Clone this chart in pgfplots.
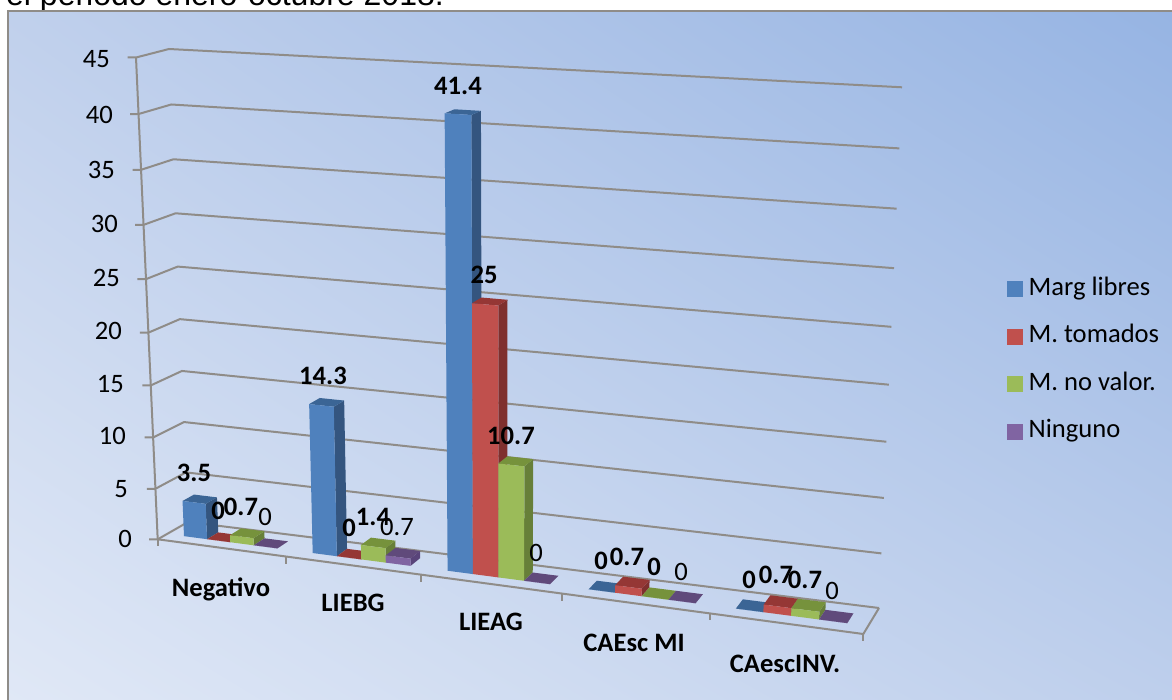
\documentclass[border=0pt]{standalone}
\usepackage{pgfplots}
\pgfplotsset{compat=1.18}
\usetikzlibrary{shadings}
\usepackage{fontspec}
\setmainfont{Carlito}
\newfontfamily\arialfont{Liberation Sans}
\newcommand\chartfont{\fontsize{26.6}{26.6}\selectfont}

% Series colours: front, side and top faces of each bar
\definecolor{s0front}{HTML}{4F81BD}\definecolor{s0side}{HTML}{34557F}\definecolor{s0top}{HTML}{3B6595}
\definecolor{s1front}{HTML}{C0504D}\definecolor{s1side}{HTML}{7F302E}\definecolor{s1top}{HTML}{953735}
\definecolor{s2front}{HTML}{9BBB59}\definecolor{s2side}{HTML}{677F39}\definecolor{s2top}{HTML}{76923C}
\definecolor{s3front}{HTML}{8064A2}\definecolor{s3side}{HTML}{59447A}\definecolor{s3top}{HTML}{604A7B}
\definecolor{gridgray}{HTML}{8F8C88}
\definecolor{bgll}{RGB}{224,232,246}
\definecolor{bgul}{RGB}{192,208,236}
\definecolor{bglr}{RGB}{190,207,236}
\definecolor{bgur}{RGB}{150,180,227}

% One face of a bar: category, series, colour, corner rows (edge e, depth d, value v)
\newcommand\face[4]{%
  \addplot[fill=#3,draw=none,mark=none,forget plot] table[row sep=\\,
    x expr={px(#1+0.135+(#2+\thisrow{e})*0.1825,\thisrow{d},\thisrow{v})},
    y expr={py(#1+0.135+(#2+\thisrow{e})*0.1825,\thisrow{d},\thisrow{v})}]
    {e d v\\ #4};}
% A whole bar: category, series, value
\newcommand\drawbar[3]{%
  \face{#1}{#2}{s#2side}{1 0.31 0\\ 1 0.69 0\\ 1 0.69 #3\\ 1 0.31 #3\\}
  \face{#1}{#2}{s#2top}{0 0.31 #3\\ 1 0.31 #3\\ 1 0.69 #3\\ 0 0.69 #3\\}
  \face{#1}{#2}{s#2front}{0 0.31 0\\ 1 0.31 0\\ 1 0.31 #3\\ 0 0.31 #3\\}}
% A frame line: rows of u, d, v and a pixel offset
\newcommand\frameline[1]{%
  \addplot[gridgray,line width=2pt,mark=none,forget plot] table[row sep=\\,
    x expr={px(\thisrow{u},\thisrow{d},\thisrow{v})+\thisrow{dx}},
    y expr={py(\thisrow{u},\thisrow{d},\thisrow{v})+\thisrow{dy}}]
    {u d v dx dy\\ #1};}

\begin{document}
\begin{tikzpicture}[x=1pt,y=1pt]
\clip (0,0) rectangle (1172,700);
% Page heading, cut by the chart area
\node[anchor=base west,inner sep=0pt,font=\arialfont\fontsize{32}{32}\selectfont] at (6,694.5) {el periodo enero-octubre 2018.};
% Chart area with its diagonal gradient
\shade[lower left=bgll,upper left=bgul,lower right=bglr,upper right=bgur]
  (8,-2) rectangle (1174,688.5);
\draw[gridgray,line width=2pt] (8,-4) -- (8,688.5) -- (1176,688.5);

\begin{axis}[
  at={(0,0)},anchor=south west,
  scale only axis,width=1172pt,height=700pt,
  xmin=0,xmax=1172,ymin=0,ymax=700,y dir=reverse,
  hide axis,clip=false,
  declare function={
    su(\a)=\a/5+0.11*(\a/5)*(\a/5-1);
    tv(\c)=\c/45+0.063*(\c/45)*(\c/45-1);
    px(\a,\b,\c)=(1-tv(\c))*((1-su(\a))*((1-\b)*157.7+\b*188)+su(\a)*((1-\b)*863.3+\b*879))
                +tv(\c)*((1-su(\a))*((1-\b)*136+\b*169)+su(\a)*((1-\b)*886.7+\b*902));
    py(\a,\b,\c)=(1-tv(\c))*((1-su(\a))*((1-\b)*539.3+\b*522)+su(\a)*((1-\b)*634+\b*608))
                +tv(\c)*((1-su(\a))*((1-\b)*57.5+\b*49)+su(\a)*((1-\b)*99+\b*87.3));
  },
  legend style={draw=none,fill=none,at={(axis cs:1007,273.5)},anchor=north west,
    font=\chartfont,row sep=21.6pt,column sep=3pt,inner sep=0pt,
    nodes={inner sep=3pt,anchor=base west}},
  legend cell align=left,
  legend image code/.code={\fill[#1] (0pt,-1pt) rectangle (15pt,14pt);},
]
% Gridlines on the back and side walls
\pgfplotsinvokeforeach{0,5,10,15,20,25,30,35,40,45}{
  \frameline{0 0 #1 -8.5 0\\ 0 0 #1 0 0\\ 0 1 #1 0 0\\ 5 1 #1 0 0\\}
}
% Value axis edge and floor outline with category ticks
\frameline{0 0 0 0 0\\ 0 0 45 0 0\\}
\frameline{0 0 0 0 0\\ 5 0 0 0 0\\ 5 1 0 0 0\\}
\pgfplotsinvokeforeach{0,1,2,3,4,5}{
  \frameline{#1 0 0 0 0\\ #1 0 0 0 7\\}
}

% Bars: category, series, value
\drawbar{0}{0}{3.5}\drawbar{0}{1}{0}\drawbar{0}{2}{0.7}\drawbar{0}{3}{0}
\drawbar{1}{0}{14.3}\drawbar{1}{1}{0}\drawbar{1}{2}{1.4}\drawbar{1}{3}{0.7}
\drawbar{2}{0}{41.4}\drawbar{2}{1}{25}\drawbar{2}{2}{10.7}\drawbar{2}{3}{0}
\drawbar{3}{0}{0}\drawbar{3}{1}{0.7}\drawbar{3}{2}{0}\drawbar{3}{3}{0}
\drawbar{4}{0}{0}\drawbar{4}{1}{0.7}\drawbar{4}{2}{0.7}\drawbar{4}{3}{0}

\addlegendimage{s0front}\addlegendentry{Marg libres}
\addlegendimage{s1front}\addlegendentry{M. tomados}
\addlegendimage{s2front}\addlegendentry{M. no valor.}
\addlegendimage{s3front}\addlegendentry{Ninguno}

% Value axis labels
\begin{scope}[every node/.style={font=\chartfont,anchor=east,inner sep=0pt}]
\node at (axis cs:110,59){45};
\node at (axis cs:113,115){40};
\node at (axis cs:115,170){35};
\node at (axis cs:118,224){30};
\node at (axis cs:120,278){25};
\node at (axis cs:122,331){20};
\node at (axis cs:124,384){15};
\node at (axis cs:126,436){10};
\node at (axis cs:128,489){5};
\node at (axis cs:132,539){0};
\end{scope}
% Category labels
\begin{scope}[every node/.style={font=\bfseries\chartfont,inner sep=0pt}]
\node at (axis cs:221,589){Negativo};
\node at (axis cs:353,603){LIEBG};
\node at (axis cs:491,622){LIEAG};
\node at (axis cs:634,643){CAEsc MI};
\node at (axis cs:785,664){CAescINV.};
\end{scope}
% Value labels, bold and regular
\begin{scope}[every node/.style={font=\bfseries\chartfont,inner sep=0pt}]
\node at (axis cs:194,473){3.5};
\node at (axis cs:218,511){0};
\node at (axis cs:241,507){0.7};
\node at (axis cs:323,376){14.3};
\node at (axis cs:349,528){0};
\node at (axis cs:373,517){1.4};
\node at (axis cs:458,86){41.4};
\node at (axis cs:484,275){25};
\node at (axis cs:511,436){10.7};
\node at (axis cs:601,561){0};
\node at (axis cs:627,557){0.7};
\node at (axis cs:654,567){0};
\node at (axis cs:749,580){0};
\node at (axis cs:776,575){0.7};
\node at (axis cs:805,580){0.7};
\end{scope}
\begin{scope}[every node/.style={font=\chartfont,inner sep=0pt}]
\node at (axis cs:265,517){0};
\node at (axis cs:397,527){0.7};
\node at (axis cs:536,553){0};
\node at (axis cs:681,572){0};
\node at (axis cs:832,591){0};
\end{scope}
\end{axis}
\end{tikzpicture}
\end{document}
